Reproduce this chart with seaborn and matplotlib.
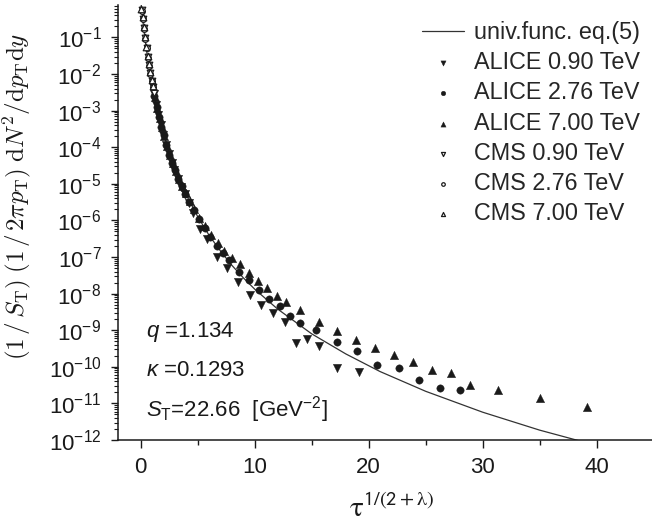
import matplotlib
matplotlib.use("Agg")
import matplotlib.pyplot as plt
from matplotlib.ticker import LogLocator, NullFormatter, MultipleLocator
import seaborn as sns

# universal function eq.(5) sampled along the scaling variable
curve_x = [0, 0.25, 0.5, 0.75, 1, 1.25, 1.5, 2, 2.5, 3, 4, 5, 6, 7, 8, 9, 10, 12, 15, 18, 21,
           25, 30, 35, 40]
curve_y = [1.0, 1.78e-1, 4.47e-2, 1.38e-2, 5.01e-3, 2.04e-3, 9.12e-4, 2.29e-4, 7.24e-5, 2.63e-5,
           4.90e-6, 1.26e-6, 3.89e-7, 1.45e-7, 5.89e-8, 2.69e-8, 1.32e-8, 3.80e-9, 7.94e-10,
           2.24e-10, 7.41e-11, 2.14e-11, 5.75e-12, 1.86e-12, 7.08e-13]

# ALICE spectra
alice_090_x = [1.15, 1.35, 1.55, 1.75, 1.95, 2.2, 2.45, 2.7, 2.95, 3.25, 3.55, 3.85, 4.2, 4.6,
               5.18, 5.82, 6.73, 7.54, 8.57, 9.62, 10.59, 11.58, 12.63, 13.66, 14.59, 15.61,
               17.22, 19.18]
alice_090_y = [2.82e-3, 1.41e-3, 7.41e-4, 3.98e-4, 2.19e-4, 1.12e-4, 6.61e-5, 3.80e-5, 2.34e-5,
               1.38e-5, 8.32e-6, 5.13e-6, 3.02e-6, 1.58e-6, 5.75e-7, 3.02e-7, 9.77e-8, 4.90e-8,
               2.09e-8, 9.12e-9, 4.90e-9, 3.02e-9, 1.66e-9, 4.57e-10, 5.75e-10, 3.80e-10,
               9.55e-11, 7.41e-11]

alice_276_x = [1.2, 1.4, 1.6, 1.8, 2.0, 2.25, 2.5, 2.75, 3.0, 3.3, 3.6, 3.9, 4.25, 4.65, 5.1,
               5.6, 6.1, 6.65, 7.2, 7.75, 8.60, 9.47, 10.38, 11.25, 12.19, 13.11, 14.01, 15.38,
               17.19, 18.95, 20.76, 22.63, 24.41, 26.23, 28.01]
alice_276_y = [2.51e-3, 1.26e-3, 6.61e-4, 3.63e-4, 2.09e-4, 1.12e-4, 6.31e-5, 3.80e-5, 2.34e-5,
               1.38e-5, 8.51e-6, 5.37e-6, 3.24e-6, 1.91e-6, 1.07e-6, 6.17e-7, 3.55e-7, 2.00e-7,
               1.26e-7, 8.32e-8, 3.98e-8, 2.29e-8, 1.26e-8, 7.24e-9, 4.57e-9, 2.51e-9, 1.62e-9,
               1.02e-9, 4.79e-10, 2.69e-10, 1.12e-10, 9.55e-11, 4.37e-11, 2.57e-11, 2.29e-11]

alice_700_x = [1.25, 1.45, 1.65, 1.85, 2.05, 2.3, 2.55, 2.8, 3.05, 3.35, 3.65, 3.95, 4.3, 4.7,
               5.15, 5.65, 6.2, 6.75, 7.3, 8.0, 8.68, 9.47, 10.29, 11.11, 11.96, 12.78, 13.95,
               15.61, 17.25, 18.92, 20.58, 22.22, 23.89, 25.55, 27.19, 28.86, 31.34, 35.06, 39.18]
alice_700_y = [2.40e-3, 1.20e-3, 6.31e-4, 3.47e-4, 2.00e-4, 1.07e-4, 6.17e-5, 3.72e-5, 2.29e-5,
               1.35e-5, 8.51e-6, 5.50e-6, 3.39e-6, 2.04e-6, 1.20e-6, 6.92e-7, 3.98e-7, 2.34e-7,
               1.48e-7, 9.55e-8, 6.46e-8, 3.72e-8, 2.19e-8, 1.38e-8, 8.51e-9, 6.03e-9, 3.55e-9,
               1.66e-9, 9.33e-10, 5.25e-10, 3.24e-10, 2.04e-10, 1.32e-10, 8.13e-11, 6.61e-11,
               3.09e-11, 2.34e-11, 1.38e-11, 7.94e-12]

# CMS spectra
cms_090_x = [0.07, 0.18, 0.29, 0.40, 0.51, 0.62, 0.73, 0.84, 0.95, 1.06, 1.15]
cms_090_y = [5.5e-1, 3.2e-1, 1.8e-1, 9.8e-2, 5.2e-2, 3.0e-2, 1.74e-2, 1.05e-2, 6.6e-3, 4.3e-3,
             3.0e-3]
cms_276_x = [0.08, 0.19, 0.30, 0.41, 0.52, 0.63, 0.74, 0.85, 0.96, 1.07]
cms_276_y = [5.4e-1, 3.2e-1, 1.7e-1, 9.3e-2, 5.0e-2, 2.8e-2, 1.66e-2, 1.0e-2, 6.5e-3, 4.3e-3]
cms_700_x = [0.06, 0.17, 0.28, 0.39, 0.50, 0.61, 0.72, 0.83, 0.94, 1.05]
cms_700_y = [5.9e-1, 3.5e-1, 1.9e-1, 1.05e-1, 5.6e-2, 3.2e-2, 1.9e-2, 1.1e-2, 6.9e-3, 4.6e-3]

fit_q = "1.134"
fit_kappa = "0.1293"
fit_st = "22.66"

sns.set_theme(style="ticks")
plt.rcParams["font.family"] = ["Liberation Sans", "DejaVu Sans"]
plt.rcParams["mathtext.fontset"] = "custom"
plt.rcParams["mathtext.rm"] = "Liberation Sans"
plt.rcParams["mathtext.it"] = "Liberation Sans:italic"
plt.rcParams["mathtext.sf"] = "Liberation Sans"
plt.rcParams["mathtext.bf"] = "Liberation Sans:bold"

ink = "#1a1a1a"

fig = plt.figure(figsize=(6.52, 5.22), dpi=100, facecolor="white")
ax = fig.add_axes([118 / 652, 1 - 440 / 522, 547 / 652, 435 / 522])
ax.set_yscale("log")

sns.lineplot(x=curve_x, y=curve_y, ax=ax, color="#333333", linewidth=0.9,
             estimator=None, sort=False, label="univ.func. eq.(5)")

filled = dict(color=ink, edgecolor=ink, linewidth=0.3, ax=ax, zorder=3)
sns.scatterplot(x=alice_090_x, y=alice_090_y, marker="v", s=36, label="ALICE 0.90 TeV", **filled)
sns.scatterplot(x=alice_276_x, y=alice_276_y, marker="o", s=28, label="ALICE 2.76 TeV", **filled)
sns.scatterplot(x=alice_700_x, y=alice_700_y, marker="^", s=36, label="ALICE 7.00 TeV", **filled)

hollow = dict(facecolor="white", edgecolor=ink, linewidth=0.9, ax=ax, zorder=4)
sns.scatterplot(x=cms_090_x, y=cms_090_y, marker="v", s=22, label="CMS 0.90 TeV", **hollow)
sns.scatterplot(x=cms_276_x, y=cms_276_y, marker="o", s=17, label="CMS 2.76 TeV", **hollow)
sns.scatterplot(x=cms_700_x, y=cms_700_y, marker="^", s=22, label="CMS 7.00 TeV", **hollow)

ax.set_xlim(-2, 46)
ax.set_ylim(1e-12, 10 ** (-12 + 435 / 36.6))

ax.xaxis.set_major_locator(MultipleLocator(10))
ax.xaxis.set_minor_locator(MultipleLocator(5))
ax.yaxis.set_major_locator(LogLocator(base=10, numticks=30))
ax.yaxis.set_minor_locator(LogLocator(base=10, subs=[2, 3, 4, 5, 6, 7, 8, 9], numticks=30))
ax.yaxis.set_minor_formatter(NullFormatter())

for side in ("top", "right"):
    ax.spines[side].set_visible(False)
for side in ("left", "bottom"):
    ax.spines[side].set_linewidth(1.1)
    ax.spines[side].set_color(ink)

ax.tick_params(axis="x", which="major", direction="out", length=5.5, width=1.0,
               pad=7, labelsize=16, colors=ink)
ax.tick_params(axis="x", which="minor", direction="out", length=3.5, width=1.0, colors=ink)
ax.tick_params(axis="y", which="major", direction="out", length=5, width=1.0,
               pad=7, labelsize=16, colors=ink)
ax.tick_params(axis="y", which="minor", direction="out", length=3, width=0.8, colors=ink)

ax.set_ylabel(r"$(1\,/\,S_{\rm T})\;(1\,/\,2\pi p_{\rm T})\;{\rm d}N^2/{\rm d}p_{\rm T}{\rm d}y$",
              math_fontfamily="cm", fontsize=18, color=ink)
ax.yaxis.set_label_coords(-0.155, 0.561)
ax.set_xlabel(r"$\mathrm{\tau}^{\mathsf{1/(2+}\mathrm{\lambda}\mathsf{)}}$", math_fontfamily="stix",
              fontsize=21, color=ink)
ax.xaxis.set_label_coords(0.5, -0.125)

txt = dict(transform=ax.transAxes, fontsize=16, color=ink, va="baseline", ha="left")
ax.text(0.052, 0.2375, r"$q$ =" + fit_q, **txt)
ax.text(0.052, 0.147, r"$\kappa$ =" + fit_kappa, **txt)
ax.text(0.052, 0.053, r"$S_{\rm T}$=" + fit_st + r"  [GeV$^{-2}$]", **txt)

ax.legend(loc="upper left", bbox_to_anchor=(422 / 652, 1 - 21 / 522),
          bbox_transform=fig.transFigure, frameon=False, fontsize=16.8,
          handlelength=1.8, handletextpad=0.42, labelspacing=0.31,
          borderpad=0, borderaxespad=0, markerscale=0.62)

fig.savefig("out.png", dpi=100, facecolor="white")
